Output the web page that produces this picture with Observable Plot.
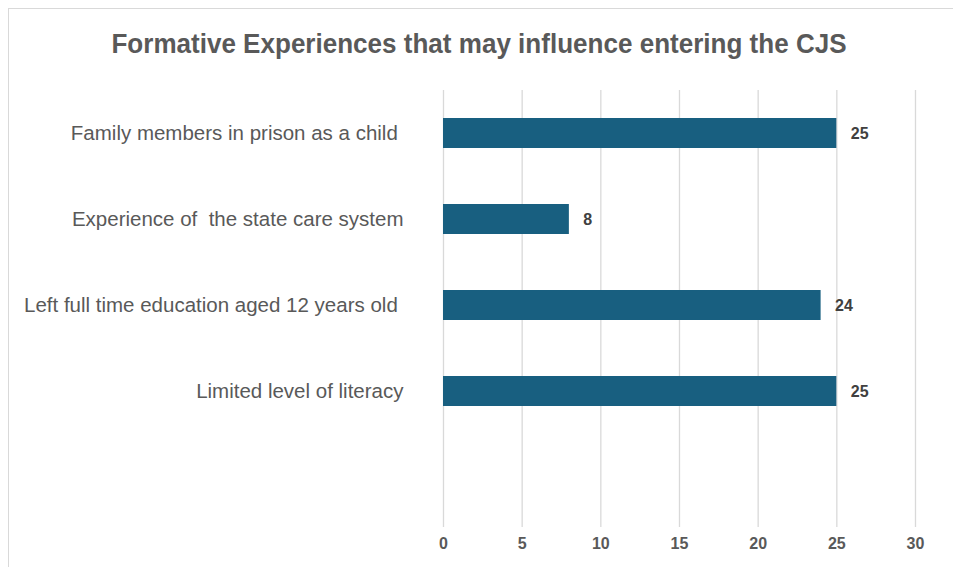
<!DOCTYPE html>
<html>
<head>
<meta charset="utf-8">
<script src="https://cdn.jsdelivr.net/npm/d3@7"></script>
<script src="https://cdn.jsdelivr.net/npm/@observablehq/plot@0.6"></script>
<style>
  html, body { margin: 0; padding: 0; background: #fff; overflow: hidden; width: 953px; height: 567px; }
  #frame { position: absolute; left: 8px; top: 8px; width: 1000px; height: 700px; border: 1px solid #d9d9d9; box-sizing: border-box; }
  #title { position: absolute; left: 0; top: 27px; width: 958px; text-align: center; font-family: "Liberation Sans", Arial, sans-serif; font-weight: bold; font-size: 28px; line-height: 34px; color: #595959; transform: scaleX(0.93); transform-origin: 479px 0; white-space: nowrap; }
  #chart { position: absolute; left: 0; top: 70px; }
  #chart svg text { white-space: pre; }
</style>
</head>
<body>
<div id="frame"></div>
<div id="title">Formative Experiences that may influence entering the CJS</div>
<div id="chart"></div>
<script>
const categories = [
  "Family members in prison as a child ",
  "Experience of  the state care system",
  "Left full time education aged 12 years old ",
  "Limited level of literacy"
];
const values = [25, 8, 24, 25];
const xTicks = [0, 5, 10, 15, 20, 25, 30];

const data = categories.map((c, i) => ({category: c, value: values[i]}));
const yDomain = [...categories, " "];

const fontFam = '"Liberation Sans", Arial, sans-serif';

const chart = Plot.plot({
  width: 953,
  height: 497,
  marginLeft: 443,
  marginRight: 38,
  marginTop: 20,
  marginBottom: 47,
  style: { fontFamily: fontFam, background: "transparent", overflow: "visible" },
  x: { domain: [0, 30], ticks: xTicks },
  y: { domain: yDomain, paddingInner: 0.65, paddingOuter: 0.325, align: 0.5, label: null },
  marks: [
    Plot.gridX(xTicks, { stroke: "#d9d9d9", strokeOpacity: 1, strokeWidth: 1.3, insetBottom: -7 }),
    Plot.barX(data, { x: "value", y: "category", fill: "#185f80" }),
    Plot.text(data, { x: "value", y: "category", text: d => String(d.value), dx: 14, textAnchor: "start", fontWeight: "bold", fontSize: 16, fill: "#404040" }),
    Plot.axisX({ ticks: xTicks, tickSize: 0, tickPadding: 17, label: null, fontSize: 16, fontWeight: "bold", fill: "#595959" }),
    Plot.axisY({ tickSize: 0, tickPadding: 40, label: null, fontSize: 20.5, fill: "#595959" })
  ]
});
document.getElementById("chart").appendChild(chart);
</script>
</body>
</html>
